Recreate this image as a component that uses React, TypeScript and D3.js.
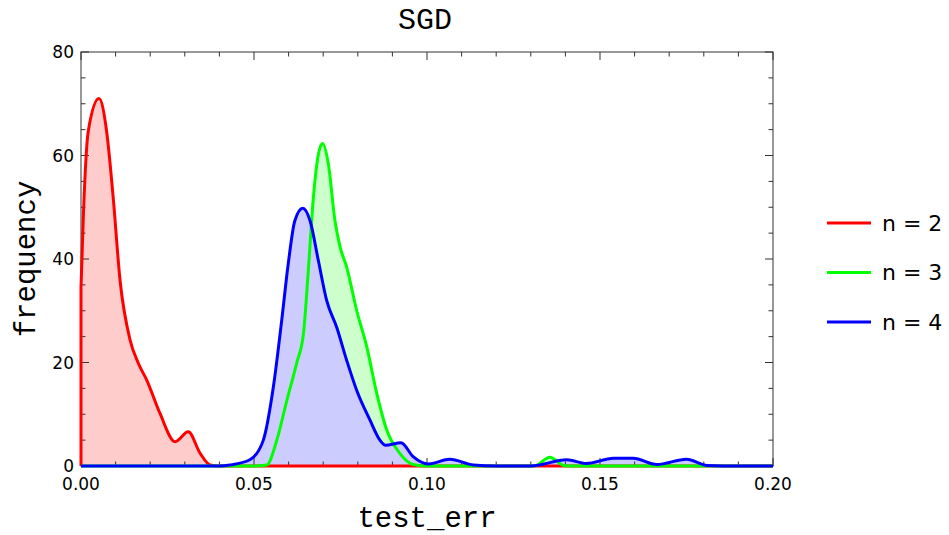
import React from "react";
import * as d3 from "d3";

// Density curves of test error for each n, as [test_err, frequency] pairs
const seriesN2: [number, number][] = [
  [0, 34.5], [0.0007, 48.7], [0.0021, 64.7], [0.0052, 71], [0.0074, 64.7],
  [0.0093, 51.9], [0.0113, 35.8], [0.0142, 24.3], [0.0166, 19.8], [0.019, 16.6],
  [0.0228, 10.2], [0.0272, 4.7], [0.031, 6.6], [0.0344, 2.5], [0.0373, 0.2],
  [0.04, 0], [0.2, 0],
];
const seriesN3: [number, number][] = [
  [0, 0], [0.05, 0], [0.0537, 0.2], [0.0566, 5], [0.0595, 12.7], [0.0623, 19.8],
  [0.0643, 25.6], [0.0657, 37.8], [0.067, 50.6], [0.0683, 59], [0.0698, 62.3],
  [0.0715, 58.3], [0.0734, 47.4], [0.0749, 42.3], [0.0768, 38.4], [0.0797, 30],
  [0.0826, 23], [0.0855, 14], [0.0884, 6.9], [0.0922, 2.4], [0.096, 0.3],
  [0.1, 0], [0.131, 0], [0.1355, 1.7], [0.1395, 0.1], [0.141, 0], [0.2, 0],
];
const seriesN4: [number, number][] = [
  [0, 0], [0.04, 0], [0.0431, 0.2], [0.0488, 1.2], [0.0527, 5.0], [0.0556, 15.3],
  [0.058, 28.1], [0.0599, 39.1], [0.0618, 47.4], [0.0641, 49.8], [0.0662, 47.4],
  [0.0686, 39.7], [0.071, 32], [0.0739, 26.8], [0.0768, 20.4], [0.0797, 14.6],
  [0.0835, 8.9], [0.0864, 5.0], [0.088, 4.0], [0.0925, 4.5], [0.096, 1.8],
  [0.1004, 0.4], [0.1066, 1.3], [0.1134, 0.2], [0.12, 0], [0.13, 0],
  [0.1404, 1.2], [0.146, 0.5], [0.1539, 1.5], [0.1596, 1.5], [0.1664, 0.3],
  [0.175, 1.3], [0.181, 0.1], [0.19, 0], [0.2, 0],
];

const seriesNames = ["n = 2", "n = 3", "n = 4"];
const lineColors = ["#ff0000", "#00ff00", "#0000ff"];
const fillColors = ["#ffcccc", "#ccffcc", "#ccccff"];

const xMajorTicks = [0, 0.05, 0.1, 0.15, 0.2];
const xTickLabels = ["0.00", "0.05", "0.10", "0.15", "0.20"];
const yMajorTicks = [0, 20, 40, 60, 80];
const yTickLabels = ["0", "20", "40", "60", "80"];

const W = 949;
const H = 535;
const M = { left: 81, right: 773, top: 52, bottom: 466 };

export default function App() {
  const x = d3.scaleLinear().domain([0, 0.2]).range([M.left, M.right]);
  const y = d3.scaleLinear().domain([0, 80]).range([M.bottom, M.top]);

  const allSeries = [seriesN2, seriesN3, seriesN4];

  const area = d3
    .area<[number, number]>()
    .x((d) => x(d[0]))
    .y0(y(0))
    .y1((d) => y(d[1]))
    .curve(d3.curveMonotoneX);

  const line = d3
    .line<[number, number]>()
    .x((d) => x(d[0]))
    .y((d) => y(d[1]))
    .curve(d3.curveMonotoneX);

  // Stroke rises from the baseline at the first sample
  const strokePath = (s: [number, number][]) =>
    `M${x(s[0][0])},${y(0)}` + (line(s) || "").replace(/^M/, "L");

  const xMinor = x.ticks(20).filter((t) => !xMajorTicks.some((m) => Math.abs(m - t) < 1e-9));
  const yMinor = y.ticks(16).filter((t) => !yMajorTicks.includes(t));

  const major = 8;
  const minor = 4.5;
  const frame = "#333";

  const sans = "'DejaVu Sans', 'Liberation Sans', sans-serif";
  const mono = "'Liberation Mono', 'DejaVu Sans Mono', monospace";

  return (
    <div style={{ position: "absolute", left: 0, top: 0 }}>
      <svg width={W} height={H} style={{ display: "block", background: "#fff" }}>
        <text x={425} y={29} textAnchor="middle" fontFamily={mono} fontSize={30} fill="#000">
          SGD
        </text>

        <g clipPath="url(#plotClip)">
          {allSeries.map((s, i) => (
            <path key={"f" + i} d={area(s) || ""} fill={fillColors[i]} stroke="none" />
          ))}
        </g>

        {/* frame */}
        <rect
          x={M.left}
          y={M.top}
          width={M.right - M.left}
          height={M.bottom - M.top}
          fill="none"
          stroke={frame}
          strokeWidth={1}
        />

        {/* ticks on all four sides, pointing inward */}
        {xMajorTicks.map((t) => (
          <g key={"xM" + t}>
            <line x1={x(t)} x2={x(t)} y1={M.bottom} y2={M.bottom - major} stroke={frame} />
            <line x1={x(t)} x2={x(t)} y1={M.top} y2={M.top + major} stroke={frame} />
          </g>
        ))}
        {xMinor.map((t) => (
          <g key={"xm" + t}>
            <line x1={x(t)} x2={x(t)} y1={M.bottom} y2={M.bottom - minor} stroke={frame} />
            <line x1={x(t)} x2={x(t)} y1={M.top} y2={M.top + minor} stroke={frame} />
          </g>
        ))}
        {yMajorTicks.map((t) => (
          <g key={"yM" + t}>
            <line x1={M.left} x2={M.left + major} y1={y(t)} y2={y(t)} stroke={frame} />
            <line x1={M.right} x2={M.right - major} y1={y(t)} y2={y(t)} stroke={frame} />
          </g>
        ))}
        {yMinor.map((t) => (
          <g key={"ym" + t}>
            <line x1={M.left} x2={M.left + minor} y1={y(t)} y2={y(t)} stroke={frame} />
            <line x1={M.right} x2={M.right - minor} y1={y(t)} y2={y(t)} stroke={frame} />
          </g>
        ))}

        <g clipPath="url(#plotClip)">
          {allSeries.map((s, i) => (
            <path
              key={"l" + i}
              d={strokePath(s)}
              fill="none"
              stroke={lineColors[i]}
              strokeWidth={3}
              strokeLinejoin="round"
            />
          ))}
        </g>

        {/* tick labels */}
        {xMajorTicks.map((t, i) => (
          <text
            key={"xl" + t}
            x={x(t)}
            y={490}
            textAnchor="middle"
            fontFamily={sans}
            fontSize={17}
            fill="#000"
          >
            {xTickLabels[i]}
          </text>
        ))}
        {yMajorTicks.map((t, i) => (
          <text
            key={"yl" + t}
            x={74}
            y={y(t)}
            dy="0.36em"
            textAnchor="end"
            fontFamily={sans}
            fontSize={17}
            fill="#000"
          >
            {yTickLabels[i]}
          </text>
        ))}

        {/* axis titles */}
        <text x={(M.left + M.right) / 2} y={527} textAnchor="middle" fontFamily={mono} fontSize={29} fill="#000">
          test_err
        </text>
        <text
          transform={`translate(35,${(M.top + M.bottom) / 2}) rotate(-90)`}
          textAnchor="middle"
          fontFamily={mono}
          fontSize={29}
          fill="#000"
        >
          frequency
        </text>

        {/* legend */}
        {seriesNames.map((name, i) => {
          const ly = 223 + i * 49.5;
          return (
            <g key={"lg" + i}>
              <line x1={827} x2={871} y1={ly} y2={ly} stroke={lineColors[i]} strokeWidth={3} />
              <text x={882} y={ly} dy="0.36em" fontFamily={sans} fontSize={22} fill="#000">
                {name}
              </text>
            </g>
          );
        })}

        <defs>
          <clipPath id="plotClip">
            <rect x={M.left - 2} y={M.top} width={M.right - M.left + 4} height={M.bottom - M.top + 3} />
          </clipPath>
        </defs>
      </svg>
    </div>
  );
}
